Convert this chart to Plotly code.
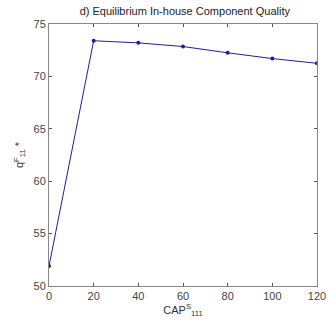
import plotly.graph_objects as go

cap = [0, 20, 40, 60, 80, 100, 120]
quality = [51.9, 73.4, 73.2, 72.85, 72.25, 71.7, 71.25]
x_ticks = [0, 20, 40, 60, 80, 100, 120]
y_ticks = [50, 55, 60, 65, 70, 75]

fig = go.Figure()
fig.add_trace(go.Scatter(
    x=cap, y=quality, mode="lines+markers",
    line=dict(color="#1f1f9a", width=1),
    marker=dict(color="#1f1f9a", size=4),
    showlegend=False,
))
font = dict(family="Liberation Sans, Arial, sans-serif", size=11, color="#333333")
fig.update_layout(
    width=336, height=325,
    margin=dict(l=49, r=10, t=24, b=39),
    paper_bgcolor="white", plot_bgcolor="white",
    font=font,
    title=dict(text="d) Equilibrium In-house Component Quality", x=0.55, xanchor="center",
               y=0.965, yanchor="middle", font=dict(size=11, color="#222222")),
)
axis_common = dict(
    showgrid=False, zeroline=False, showline=True, linecolor="#888888", linewidth=1,
    mirror="ticks", ticks="inside", ticklen=3, tickcolor="#555555",
    tickfont=dict(size=11, color="#444444"),
)
fig.update_xaxes(range=[0, 120], tickvals=x_ticks,
                 title=dict(text="CAP<sup>S</sup><sub>111</sub>", standoff=2,
                            font=dict(size=11, color="#333333")), **axis_common)
fig.update_yaxes(range=[50, 75], tickvals=y_ticks,
                 title=dict(text="q<sup>F</sup><sub>11</sub> *", standoff=7,
                            font=dict(size=11, color="#333333")), **axis_common)
fig.write_html("out.html")
